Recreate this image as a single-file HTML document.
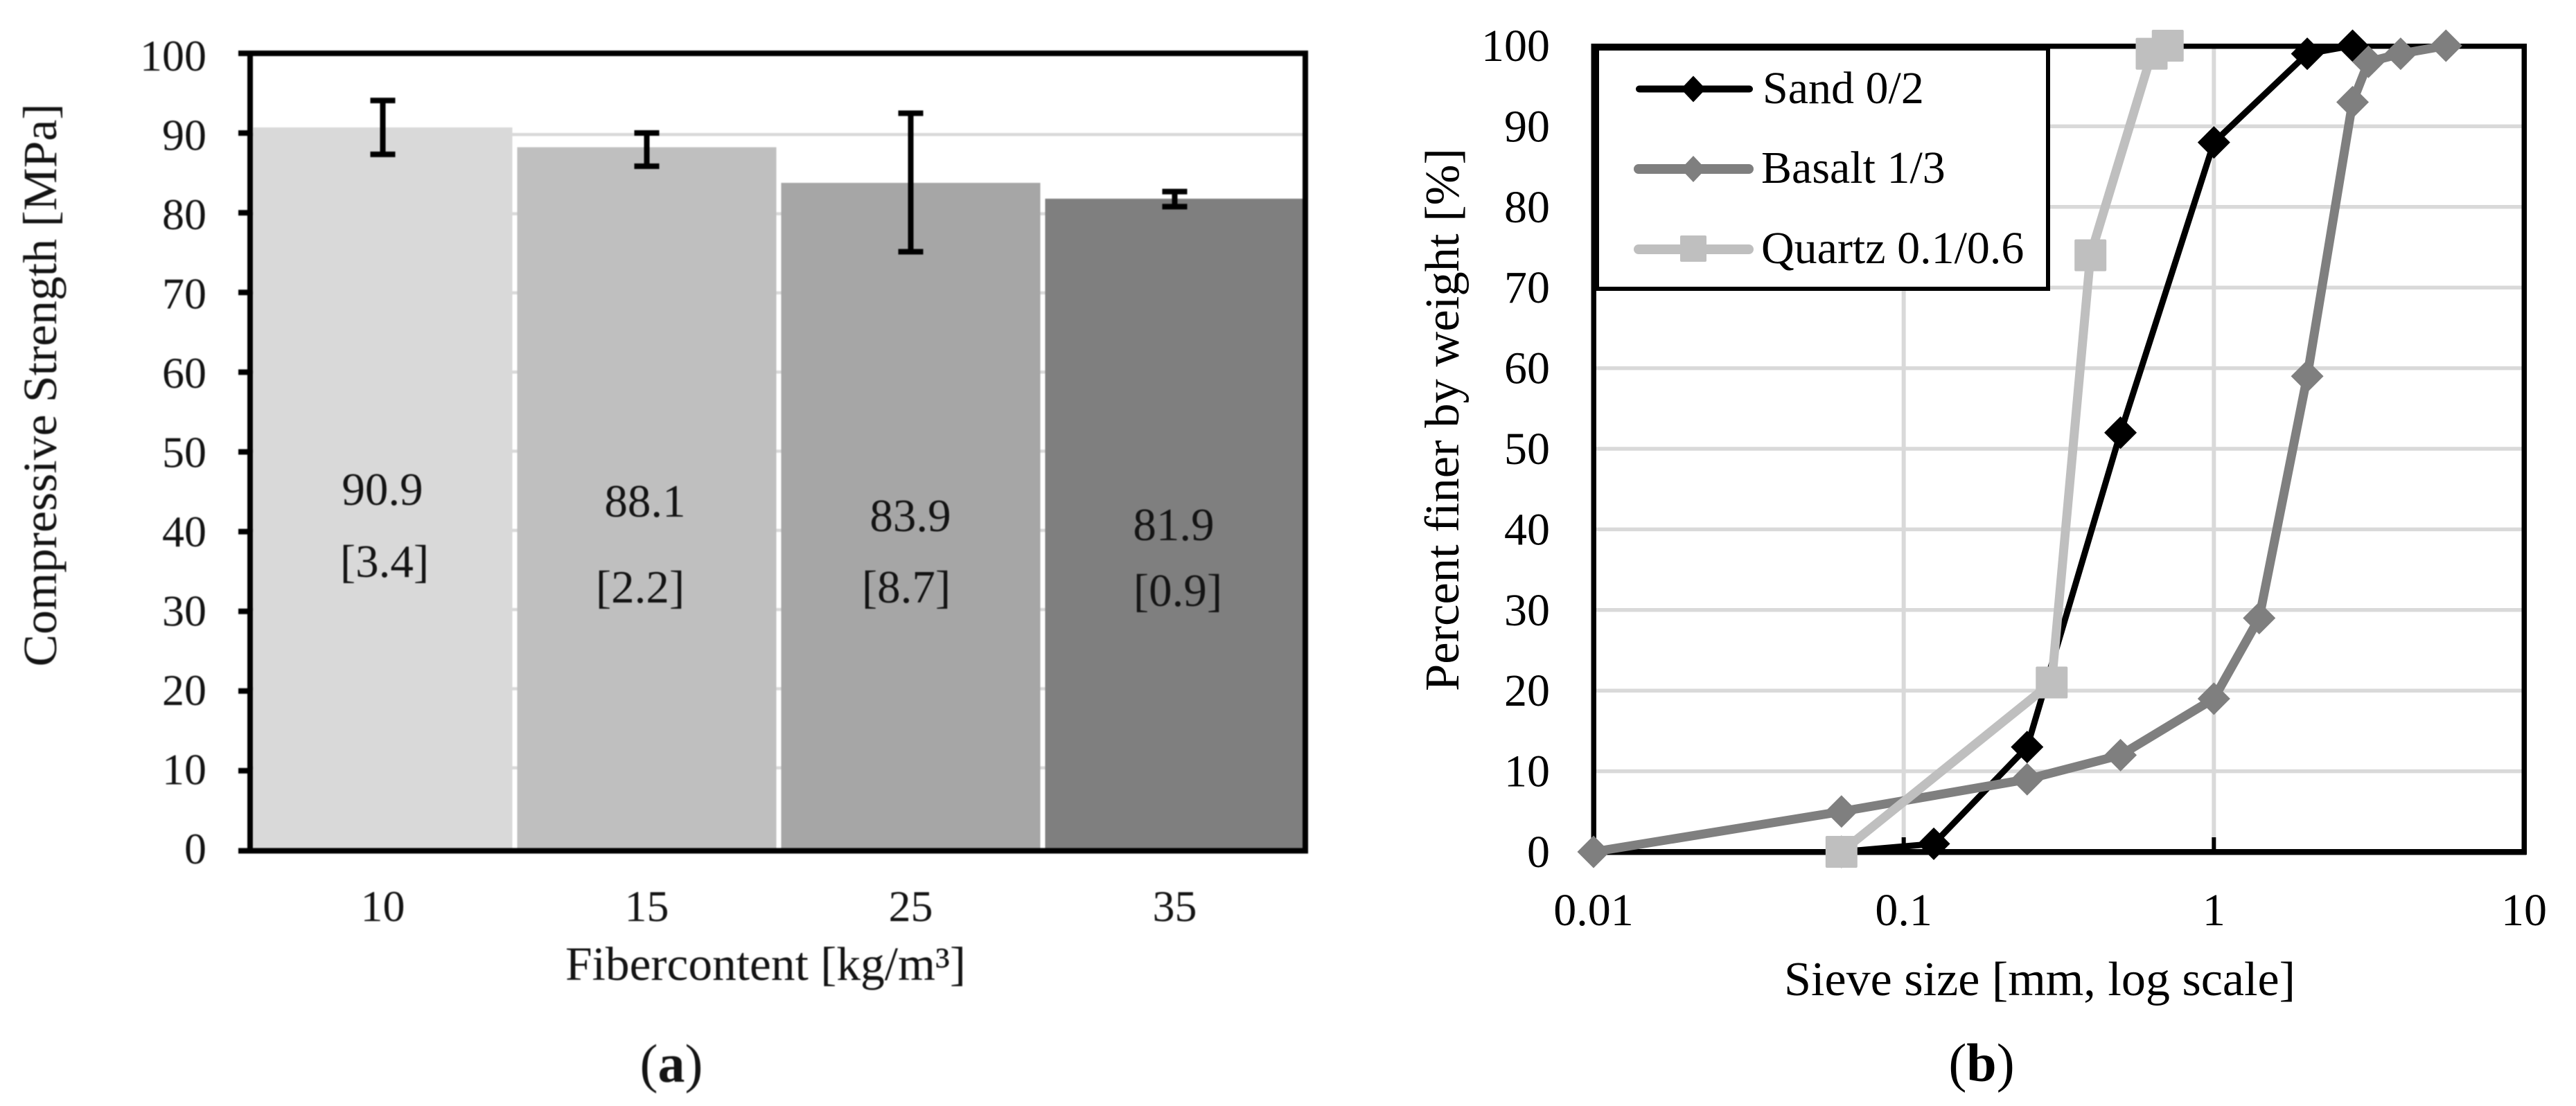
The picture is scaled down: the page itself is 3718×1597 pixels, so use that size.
<!DOCTYPE html>
<html lang="en">
<head>
<meta charset="utf-8">
<title>Compressive strength and sieve curves</title>
<style>
html,body{margin:0;padding:0;background:#fff;}
svg{display:block;}
text{font-family:"Liberation Serif",serif;fill:#000;}
.panel-a{filter:blur(0.9px);}
.panel-a text{fill:#141414;}
</style>
</head>
<body>
<svg id="figure" xmlns="http://www.w3.org/2000/svg" width="3718" height="1597" viewBox="0 0 3718 1597">
  <rect x="0" y="0" width="3718" height="1597" fill="#fff"/>

  <g class="panel-a">
    <g id="a-grid"></g>
    <g id="a-bars"></g>
    <g fill="#000">
      <rect x="344" y="73" width="1544" height="8"/>
      <rect x="344" y="1224.5" width="1544" height="8"/>
      <rect x="357" y="73" width="8" height="1159"/>
      <rect x="1880" y="73" width="8" height="1159"/>
    </g>
    <g id="a-ticks"></g>
    <g id="a-errors"></g>
    <g id="a-ylabels" font-size="64" text-anchor="end"></g>
    <g id="a-xlabels" font-size="64" text-anchor="middle"></g>
    <g font-size="67" text-anchor="middle">
      <text x="552" y="729">90.9</text>
      <text x="555" y="833">[3.4]</text>
      <text x="931" y="746">88.1</text>
      <text x="924" y="870">[2.2]</text>
      <text x="1314" y="767">83.9</text>
      <text x="1308" y="870">[8.7]</text>
      <text x="1694" y="780">81.9</text>
      <text x="1700" y="875">[0.9]</text>
    </g>
    <text x="81" y="556" font-size="69" text-anchor="middle" textLength="813" lengthAdjust="spacingAndGlyphs" transform="rotate(-90 81 556)">Compressive Strength [MPa]</text>
    <text x="1105" y="1415" font-size="69" text-anchor="middle" textLength="578" lengthAdjust="spacingAndGlyphs">Fibercontent [kg/m³]</text>
    <text x="969" y="1562" font-size="78" text-anchor="middle">(<tspan font-weight="bold">a</tspan>)</text>
  </g>

  <g class="panel-b">
    <g id="b-grid"></g>
    <g fill="#000">
      <rect x="2296.5" y="63" width="1350" height="7.5"/>
      <rect x="2296.5" y="1226" width="1350" height="8.5"/>
      <rect x="2296.5" y="63" width="7.5" height="1171"/>
      <rect x="3639.5" y="63" width="7.5" height="1171"/>
    </g>
    <g id="b-ticks"></g>
    <g>
      <rect x="2304" y="70" width="652" height="347" fill="#fff" stroke="#000" stroke-width="6"/>
      <rect x="2296.5" y="63" width="11.5" height="357" fill="#000"/>
      <rect x="2296.5" y="63" width="662" height="10" fill="#000"/>
      <g>
        <line x1="2366" y1="128.5" x2="2525" y2="128.5" stroke="#000" stroke-width="10" stroke-linecap="round"/>
        <polygon points="2444,109.5 2462,128.5 2444,147.5 2426,128.5" fill="#000"/>
        <text x="2544" y="149" font-size="66">Sand 0/2</text>
      </g>
      <g>
        <line x1="2365" y1="244" x2="2524" y2="244" stroke="#7f7f7f" stroke-width="14" stroke-linecap="round"/>
        <polygon points="2444,225 2462,244 2444,263 2426,244" fill="#7f7f7f"/>
        <text x="2542" y="264" font-size="66">Basalt 1/3</text>
      </g>
      <g>
        <line x1="2365" y1="360" x2="2524" y2="360" stroke="#bfbfbf" stroke-width="14" stroke-linecap="round"/>
        <rect x="2425" y="340" width="38" height="38" rx="2" fill="#bfbfbf"/>
        <text x="2542" y="380" font-size="66">Quartz 0.1/0.6</text>
      </g>
    </g>
    <g id="b-series"></g>
    <g id="b-ylabels" font-size="66" text-anchor="end"></g>
    <g id="b-xlabels" font-size="66" text-anchor="middle"></g>
    <text x="2105" y="606" font-size="70" text-anchor="middle" textLength="784" lengthAdjust="spacingAndGlyphs" transform="rotate(-90 2105 606)">Percent finer by weight [%]</text>
    <text x="2944" y="1437" font-size="70" text-anchor="middle" textLength="738" lengthAdjust="spacingAndGlyphs">Sieve size [mm, log scale]</text>
    <text x="2860" y="1561" font-size="78" text-anchor="middle">(<tspan font-weight="bold">b</tspan>)</text>
  </g>
</svg>

<script>
// Chart (a) data
const fiberCategories = ['10', '15', '25', '35'];
const barValues = [90.9, 88.4, 83.9, 81.9];
const errorUpper = [94.3, 90.2, 92.7, 82.8];
const errorLower = [87.5, 86.0, 75.2, 80.9];
const barColors = ['#d9d9d9', '#bfbfbf', '#a6a6a6', '#7f7f7f'];
const strengthTicks = [0, 10, 20, 30, 40, 50, 60, 70, 80, 90, 100];

// Chart (b) data
const percentTicks = [0, 10, 20, 30, 40, 50, 60, 70, 80, 90, 100];
const sizeTicks = [0.01, 0.1, 1, 10];
const sizeTickLabels = ['0.01', '0.1', '1', '10'];
const sandSizes = [0.063, 0.125, 0.25, 0.5, 1, 2, 2.8];
const sandPercent = [0, 1, 13, 52, 88, 99, 100];
const basaltSizes = [0.01, 0.063, 0.25, 0.5, 1, 1.4, 2, 2.8, 3.15, 4, 5.6];
const basaltPercent = [0, 5, 9, 12, 19, 29, 59, 93, 98, 99, 100];
const quartzSizes = [0.063, 0.3, 0.4, 0.63, 0.71];
const quartzPercent = [0, 21, 74, 99, 100];

const SVGNS = 'http://www.w3.org/2000/svg';
function make(parentId, tag, attrs, text) {
  const el = document.createElementNS(SVGNS, tag);
  for (const k in attrs) el.setAttribute(k, attrs[k]);
  if (text !== undefined) el.textContent = text;
  document.getElementById(parentId).appendChild(el);
  return el;
}

// Axis functions, chart (a)
function aTickY(v) { return 1228 - v * 11.51; }
function aPlotY(v) { return 1223.1 - v * 11.431; }
function aLabelY(v) { return 1247 - v * 11.45; }
function aBandCenter(i) { return 362 + (i + 0.5) * 381; }
const aBarWidth = 374;

// Axis functions, chart (b)
function bX(size) { return 2300 + (Math.log10(size) + 2) * 447.67; }
function bY(p) { return 1230 - p * 11.64; }

// Chart (a) gridlines, ticks, labels
strengthTicks.forEach(function (v) {
  if (v > 0 && v < 100) {
    const g = make('a-grid', 'line', { x1: 365, x2: 1880, y1: aPlotY(v), y2: aPlotY(v), stroke: '#d9d9d9', 'stroke-width': 4.5 });
    
    
    const t = make('a-ticks', 'line', { x1: 344, x2: 365, y1: aTickY(v), y2: aTickY(v), stroke: '#000', 'stroke-width': 8 });
    
    
  }
  const l = make('a-ylabels', 'text', { x: 298, y: aLabelY(v) }, String(v));
  
  
});

// Chart (a) bars, error bars, category labels
fiberCategories.forEach(function (cat, i) {
  const cx = aBandCenter(i);
  const top = aPlotY(barValues[i]);
  const bar = make('a-bars', 'rect', { x: cx - aBarWidth / 2, y: top, width: aBarWidth, height: 1226 - top, fill: barColors[i] });
  
  

  const yU = aPlotY(errorUpper[i]);
  const yL = aPlotY(errorLower[i]);
  const stem = make('a-errors', 'line', { x1: cx, x2: cx, y1: yU, y2: yL, stroke: '#000', 'stroke-width': 8 });
  
  
  const capU = make('a-errors', 'line', { x1: cx - 18, x2: cx + 18, y1: yU, y2: yU, stroke: '#000', 'stroke-width': 8 });
  
  
  const capL = make('a-errors', 'line', { x1: cx - 18, x2: cx + 18, y1: yL, y2: yL, stroke: '#000', 'stroke-width': 8 });
  
  

  const xl = make('a-xlabels', 'text', { x: cx, y: 1330 }, cat);
  
  
});

// Chart (b) gridlines and labels
percentTicks.forEach(function (p) {
  if (p > 0 && p < 100) {
    const g = make('b-grid', 'line', { x1: 2304, x2: 3640, y1: bY(p), y2: bY(p), stroke: '#d9d9d9', 'stroke-width': 5.5 });
    
    
  }
  const l = make('b-ylabels', 'text', { x: 2237, y: bY(p) + 22 }, String(p));
  
  
});
sizeTicks.forEach(function (s, i) {
  if (i > 0 && i < sizeTicks.length - 1) {
    const g = make('b-grid', 'line', { x1: bX(s), x2: bX(s), y1: 70, y2: 1226, stroke: '#d9d9d9', 'stroke-width': 6 });
    
    
    const t = make('b-ticks', 'line', { x1: bX(s), x2: bX(s), y1: 1209, y2: 1228, stroke: '#000', 'stroke-width': 6 });
    
    
  }
  const l = make('b-xlabels', 'text', { x: bX(s), y: 1336 }, sizeTickLabels[i]);
  
  
});

// Chart (b) series
function drawSeries(name, sizes, percents, color, width, shape) {
  const pts = sizes.map(function (s, i) { return bX(s) + ',' + bY(percents[i]); }).join(' ');
  const line = make('b-series', 'polyline', { points: pts, fill: 'none', stroke: color, 'stroke-width': width, 'stroke-linejoin': 'round' });
  
  
  sizes.forEach(function (s, i) {
    const x = bX(s);
    const y = bY(percents[i]);
    let m;
    if (shape === 'square') {
      m = make('b-series', 'rect', { x: x - 23, y: y - 23, width: 46, height: 46, rx: 2, fill: color });
    } else {
      const r = 23.5;
      m = make('b-series', 'polygon', { points: x + ',' + (y - r) + ' ' + (x + r) + ',' + y + ' ' + x + ',' + (y + r) + ' ' + (x - r) + ',' + y, fill: color });
    }
    
    
  });
}
drawSeries('sand', sandSizes, sandPercent, '#000000', 9, 'diamond');
drawSeries('basalt', basaltSizes, basaltPercent, '#7f7f7f', 13, 'diamond');
drawSeries('quartz', quartzSizes, quartzPercent, '#bfbfbf', 13, 'square');
</script>
</body>
</html>
